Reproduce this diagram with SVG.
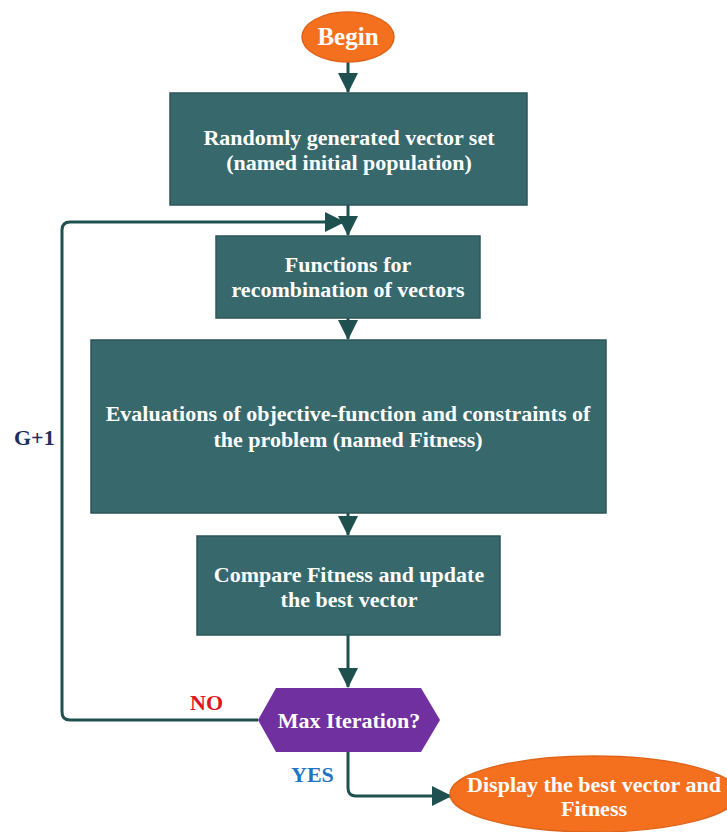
<svg xmlns="http://www.w3.org/2000/svg" width="727" height="832" viewBox="0 0 727 832" font-family="Liberation Serif, Times New Roman, serif">
  <style>
    .box { fill: #37686b; stroke: #2d5659; stroke-width: 1.5; }
    .oval { fill: #f4701f; stroke: #e06418; stroke-width: 1.5; }
    .hex { fill: #7030a0; }
    .t { font-weight: bold; font-size: 22px; fill: #ffffff; text-anchor: middle; }
    .lbl { font-weight: bold; font-size: 22px; }
    .wire { fill: none; stroke: #1f5050; stroke-width: 3; }
  </style>
  <defs>
    <marker id="arr" viewBox="0 0 20 20" refX="19" refY="10" markerWidth="20" markerHeight="20" orient="auto" markerUnits="userSpaceOnUse">
      <path d="M0,0 L20,10 L0,20 z" fill="#1f5050"/>
    </marker>
  </defs>

  <g id="connectors">
    <line class="wire" x1="348" y1="62" x2="348" y2="92" marker-end="url(#arr)"/>
    <line class="wire" x1="348" y1="205" x2="348" y2="235" marker-end="url(#arr)"/>
    <line class="wire" x1="348" y1="318" x2="348" y2="339" marker-end="url(#arr)"/>
    <line class="wire" x1="348" y1="513" x2="348" y2="535" marker-end="url(#arr)"/>
    <line class="wire" x1="348" y1="635" x2="348" y2="687" marker-end="url(#arr)"/>
    <path class="wire" d="M258,720 H70 Q62,720 62,712 V230 Q62,222 70,222 H344" marker-end="url(#arr)"/>
    <path class="wire" d="M348,752 V788 Q348,796 356,796 H451" marker-end="url(#arr)"/>
  </g>

  <g id="begin">
    <ellipse class="oval" cx="348" cy="37" rx="46" ry="25"/>
    <text class="t" x="348" y="45" style="font-size:25px">Begin</text>
  </g>

  <g id="init-population">
    <rect class="box" x="170" y="93" width="357" height="112"/>
    <text class="t" x="349" y="145">Randomly generated vector set</text>
    <text class="t" x="349" y="170">(named initial population)</text>
  </g>

  <g id="recombination">
    <rect class="box" x="216" y="236" width="264" height="82"/>
    <text class="t" x="348" y="272">Functions for</text>
    <text class="t" x="348" y="297">recombination of vectors</text>
  </g>

  <g id="evaluation">
    <rect class="box" x="91" y="340" width="515" height="173"/>
    <text class="t" x="348" y="421">Evaluations of objective-function and constraints of</text>
    <text class="t" x="348" y="447">the problem (named Fitness)</text>
  </g>

  <g id="compare">
    <rect class="box" x="197" y="536" width="303" height="99"/>
    <text class="t" x="349" y="582">Compare Fitness and update</text>
    <text class="t" x="349" y="607">the best vector</text>
  </g>

  <g id="max-iteration">
    <polygon class="hex" points="258,720 276,688 421,688 440,720 421,752 276,752"/>
    <text class="t" x="349" y="728">Max Iteration?</text>
  </g>

  <g id="display-best">
    <ellipse class="oval" cx="594" cy="794" rx="144" ry="38"/>
    <text class="t" x="594" y="792">Display the best vector and</text>
    <text class="t" x="594" y="816">Fitness</text>
  </g>

  <g id="labels">
    <text class="lbl" x="14" y="445" fill="#1f2d5c">G+1</text>
    <text class="lbl" x="190" y="710" fill="#e0141e">NO</text>
    <text class="lbl" x="291" y="782" fill="#1f74c4">YES</text>
  </g>
</svg>
